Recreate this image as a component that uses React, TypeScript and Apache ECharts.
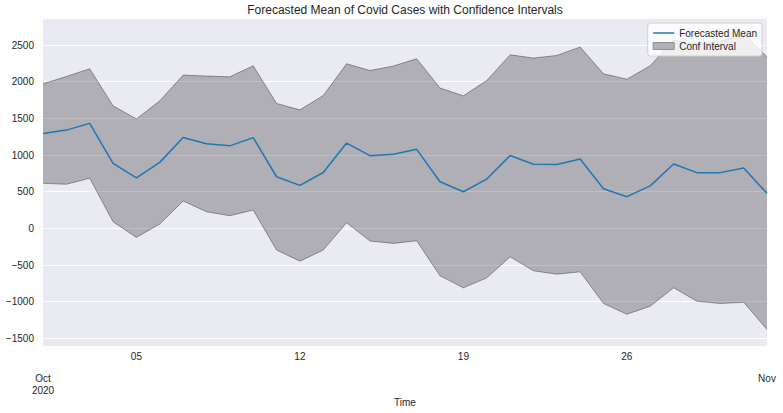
import React, { useEffect, useRef } from "react";
import * as echarts from "echarts";

// daily forecast horizon
const dates = [
  "2020-10-01", "2020-10-02", "2020-10-03", "2020-10-04", "2020-10-05", "2020-10-06",
  "2020-10-07", "2020-10-08", "2020-10-09", "2020-10-10", "2020-10-11", "2020-10-12",
  "2020-10-13", "2020-10-14", "2020-10-15", "2020-10-16", "2020-10-17", "2020-10-18",
  "2020-10-19", "2020-10-20", "2020-10-21", "2020-10-22", "2020-10-23", "2020-10-24",
  "2020-10-25", "2020-10-26", "2020-10-27", "2020-10-28", "2020-10-29", "2020-10-30",
  "2020-10-31", "2020-11-01",
];

const meanValues = [
  1295, 1340, 1432, 885, 688, 900, 1238, 1155, 1125, 1238, 704, 586, 762, 1163, 991, 1010,
  1078, 635, 499, 672, 994, 875, 871, 946, 541, 432, 580, 878, 760, 760, 824, 478,
];

const lowerValues = [
  615, 601, 683, 90, -123, 59, 373, 227, 172, 250, -296, -447, -296, 77, -173, -205,
  -169, -647, -811, -675, -388, -579, -624, -593, -1025, -1171, -1061, -811, -993, -1025,
  -1007, -1380,
];

const upperValues = [
  1971, 2071, 2176, 1671, 1493, 1739, 2090, 2077, 2067, 2217, 1703, 1616, 1811, 2245, 2153,
  2213, 2313, 1913, 1807, 2016, 2367, 2322, 2358, 2473, 2108, 2035, 2217, 2567, 2513, 2545,
  2660, 2336,
];

const yTicks = [-1500, -1000, -500, 0, 500, 1000, 1500, 2000, 2500];

// day labels shown under the axis, month labels on a lower row
const dayTickIdx = [4, 11, 18, 25];
const monthLabels: Record<number, string> = { 0: "Oct\n2020", 31: "Nov" };

const FONT = "Liberation Sans";
const TEXT = "#262626";

const App: React.FC = () => {
  const chartRef = useRef<HTMLDivElement>(null);

  useEffect(() => {
    const chartDom = chartRef.current;
    if (!chartDom) return;
    const myChart = echarts.init(chartDom, undefined, { renderer: "svg" });

    const bandWidth = upperValues.map((v, i) => v - lowerValues[i]);

    const option: echarts.EChartsOption = {
      animation: false,
      textStyle: { fontFamily: FONT, color: TEXT },
      title: {
        text: "Forecasted Mean of Covid Cases with Confidence Intervals",
        left: 405,
        top: 4,
        padding: 0,
        textAlign: "center",
        textStyle: { fontSize: 12, fontWeight: "normal", color: TEXT, fontFamily: FONT },
      },
      legend: {
        orient: "vertical",
        right: 21,
        top: 23,
        padding: [5, 5],
        itemGap: 3,
        itemWidth: 21,
        itemHeight: 7,
        backgroundColor: "rgba(255,255,255,0.8)",
        borderColor: "#d0d0d0",
        borderWidth: 1,
        borderRadius: 3,
        textStyle: { fontSize: 10, color: TEXT, fontFamily: FONT },
        data: [
          {
            name: "Forecasted Mean",
            icon: "path://M0,0H21V1.5H0Z",
            itemStyle: { color: "#1f77b4" },
          },
          {
            name: "Conf Interval",
            icon: "rect",
            itemStyle: { color: "#b0b0b6", borderColor: "#8c8c91", borderWidth: 1 },
          },
        ],
      },
      grid: {
        left: 43,
        right: 16,
        top: 19,
        bottom: 67,
        show: true,
        backgroundColor: "#EAEAF2",
        borderWidth: 0,
      },
      xAxis: [
        {
          type: "category",
          data: dates,
          boundaryGap: false,
          name: "Time",
          nameLocation: "middle",
          nameGap: 51,
          nameTextStyle: { fontSize: 10, color: TEXT, fontFamily: FONT },
          axisLine: { show: false },
          axisTick: { show: false },
          splitLine: { show: false },
          axisLabel: {
            fontSize: 10,
            color: TEXT,
            margin: 5,
            interval: (index: number) => dayTickIdx.includes(index),
            formatter: (value: string) => value.slice(8, 10),
          },
        },
        {
          type: "category",
          data: dates,
          boundaryGap: false,
          position: "bottom",
          axisLine: { show: false },
          axisTick: { show: false },
          splitLine: { show: false },
          axisLabel: {
            fontSize: 10,
            color: TEXT,
            margin: 27,
            lineHeight: 11.5,
            interval: (index: number) => index in monthLabels,
            formatter: (_value: string, index: number) => monthLabels[index] ?? "",
          },
        },
      ],
      yAxis: {
        type: "value",
        min: -1604,
        max: 2855,
        axisLine: { show: false },
        axisTick: { show: false, customValues: yTicks },
        axisLabel: {
          fontSize: 10,
          color: TEXT,
          margin: 9,
          customValues: yTicks,
          formatter: (v: number) => (v < 0 ? "\u2212" + Math.abs(v) : String(v)),
        },
        splitLine: { show: true, lineStyle: { color: "#ffffff", width: 1 } },
      },
      series: [
        {
          name: "lower",
          type: "line",
          data: lowerValues,
          stack: "ci",
          stackStrategy: "all",
          symbol: "none",
          lineStyle: { color: "rgba(0,0,0,0.35)", width: 1 },
          z: 2,
        },
        {
          name: "Conf Interval",
          type: "line",
          data: bandWidth,
          stack: "ci",
          stackStrategy: "all",
          symbol: "none",
          lineStyle: { color: "rgba(0,0,0,0.35)", width: 1 },
          areaStyle: { color: "#000000", opacity: 0.25 },
          z: 2,
        },
        {
          name: "Forecasted Mean",
          type: "line",
          data: meanValues,
          symbol: "none",
          color: "#1f77b4",
          lineStyle: { color: "#1f77b4", width: 1.5 },
          z: 3,
        },
      ],
    };

    myChart.setOption(option);

    return () => {
      myChart.dispose();
    };
  }, []);

  return (
    <div
      ref={chartRef}
      style={{ position: "absolute", left: 0, top: 0, width: "783px", height: "413px" }}
    />
  );
};

export default App;
